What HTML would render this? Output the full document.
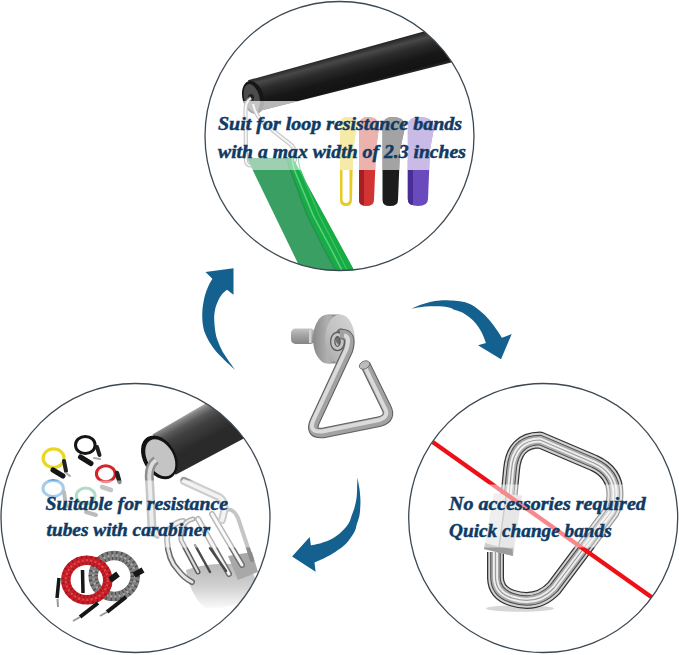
<!DOCTYPE html>
<html><head><meta charset="utf-8">
<style>
html,body{margin:0;padding:0;background:#fff;width:679px;height:655px;overflow:hidden}
svg{display:block}
.t{font-family:"Liberation Serif",serif;font-weight:bold;font-style:italic;fill:#0e3a64;font-size:18px;stroke:#0e3a64;stroke-width:0.45px}
</style></head><body>
<svg width="679" height="655" viewBox="0 0 679 655">
<defs>
  <clipPath id="cT"><circle cx="339.5" cy="136" r="134.5"/></clipPath>
  <clipPath id="cL"><circle cx="135.5" cy="518" r="134.5"/></clipPath>
  <clipPath id="cR"><circle cx="543.2" cy="518" r="134.5"/></clipPath>
  <linearGradient id="barT" gradientUnits="userSpaceOnUse" x1="370" y1="46.4" x2="379.5" y2="81.8">
    <stop offset="0" stop-color="#242424"/><stop offset="0.16" stop-color="#484848"/><stop offset="0.35" stop-color="#2c2c2c"/><stop offset="0.65" stop-color="#171717"/><stop offset="0.9" stop-color="#131313"/><stop offset="1" stop-color="#2e2e2e"/>
  </linearGradient>
  <linearGradient id="metal" x1="0" y1="0" x2="1" y2="1">
    <stop offset="0" stop-color="#e6e6e6"/><stop offset="0.5" stop-color="#a8a8a8"/><stop offset="1" stop-color="#d0d0d0"/>
  </linearGradient>
  <linearGradient id="shaft" x1="0" y1="0" x2="0" y2="1">
    <stop offset="0" stop-color="#c4c4c4"/><stop offset="0.4" stop-color="#a6a6a6"/><stop offset="1" stop-color="#858585"/>
  </linearGradient>
  <linearGradient id="wside" x1="0" y1="0" x2="1" y2="0">
    <stop offset="0" stop-color="#8a8a8a"/><stop offset="0.5" stop-color="#b0b0b0"/><stop offset="1" stop-color="#9a9a9a"/>
  </linearGradient>
  <linearGradient id="wface" x1="1" y1="0" x2="0" y2="1">
    <stop offset="0" stop-color="#d6d6d6"/><stop offset="0.6" stop-color="#c0c0c0"/><stop offset="1" stop-color="#a4a4a4"/>
  </linearGradient>
  <linearGradient id="barL" gradientUnits="userSpaceOnUse" x1="185" y1="415" x2="200" y2="443">
    <stop offset="0" stop-color="#a4a4a4"/><stop offset="0.1" stop-color="#808080"/><stop offset="0.28" stop-color="#575757"/><stop offset="0.5" stop-color="#404040"/><stop offset="0.8" stop-color="#333"/><stop offset="1" stop-color="#2a2a2a"/>
  </linearGradient>
  <clipPath id="ctopB"><rect x="300" y="100" width="200" height="70"/></clipPath>
  <clipPath id="cUnder"><rect x="230" y="101" width="100" height="20"/></clipPath>
</defs>
<rect width="679" height="655" fill="#fff"/>

<!-- ============ TOP CIRCLE ============ -->
<g clip-path="url(#cT)">
  <!-- black bar -->
  <path d="M248,80.3 L500,10.3 L500,50.2 L258,111.2 Z" fill="url(#barT)"/>
  <ellipse cx="253" cy="97.5" rx="10.5" ry="16.8" transform="rotate(-15 253 97.5)" fill="#161616"/>
  <ellipse cx="251.8" cy="97.8" rx="7.6" ry="14" transform="rotate(-15 251.8 97.8)" fill="#4c4c4c"/>
  <ellipse cx="251" cy="97.5" rx="3" ry="3.5" fill="#222"/>
  <g clip-path="url(#cUnder)">
    <path d="M252,101 L298.5,101 L258,111.2 Z" fill="#6e6e6e"/>
    <ellipse cx="253" cy="97.5" rx="10.5" ry="16.8" transform="rotate(-15 253 97.5)" fill="#5a5a5a"/>
    <ellipse cx="251.8" cy="97.8" rx="7.6" ry="14" transform="rotate(-15 251.8 97.8)" fill="#8a8a8a"/>
  </g>
  <!-- wire -->
  <path d="M251,98 C246,101 245.5,106 245.5,112 L246,161 Q246.5,165.5 251,165.5 L289,164.5 Q295,164 295,158 L294.5,151 Q294,147 290,144 L266,125 Q256,117 253,104" fill="none" stroke="#8f8f8f" stroke-width="4.2" stroke-linejoin="round"/>
  <path d="M251,98 C246,101 245.5,106 245.5,112 L246,161 Q246.5,165.5 251,165.5 L289,164.5 Q295,164 295,158 L294.5,151 Q294,147 290,144 L266,125 Q256,117 253,104" fill="none" stroke="#ececec" stroke-width="2"/>
  <!-- green band -->
  <polygon points="246.9,158 292.7,158 359.4,280 306,280" fill="#3a9f62"/>
  <path d="M287,158 L290,169 L307,215 L324.5,250 L341,280 L359.4,280 L292.7,158 Z" fill="#17ad45"/>
  <path d="M287,158 L290,169 L307,215 L324.5,250 L341,280" fill="none" stroke="#2a9152" stroke-width="1.6"/>
  <path d="M292,158 L294,169 L313,215 L331.5,250 L347,280" fill="none" stroke="#5ccf80" stroke-width="1.6"/>
  <path d="M298,158 L300,169 L319,215 L337,250 L352,280" fill="none" stroke="#3fc06a" stroke-width="1.2"/>
  <!-- small bands -->
  <path d="M340,124 Q340,117 348,117 Q357,117 357,126 L353,150 L352,200 Q352,206 346,206 Q340,206 340,200 Z" fill="#e6cb22"/>
  <path d="M342.5,170 L349.5,170 L349.5,199 Q349.5,203 346,203 Q342.5,203 342.5,199 Z" fill="#fff"/>
  <path d="M359,126 Q359,117 368,117 Q379,117 379,127 L376,150 L374,200 Q374,206 366,206 Q359,206 359,200 Z" fill="#d23434"/>
  <path d="M359,160 L364,160 L364,205 Q359,205 359,200 Z" fill="#a51e22"/>
  <path d="M382.5,126 Q382.5,117 393,117 Q405,117 405,127 L400,150 L398,200 Q398,206 390,206 Q382.5,206 382.5,200 Z" fill="#1c1c1c"/>
  <path d="M407.8,126 Q407.8,117 419,117 Q434,117 434,128 L430,150 L428,199 Q428,206 418,206 Q407.8,206 407.8,199 Z" fill="#6a4bbd"/>
  <path d="M407.8,160 L413,160 L413,205 Q407.8,205 407.8,199 Z" fill="#4a2c96"/>
  <g clip-path="url(#ctopB)">
    <path d="M340,124 Q340,117 348,117 Q357,117 357,126 L353,150 L352,200 Q352,206 346,206 Q340,206 340,200 Z" fill="#ead64e"/>
    <path d="M359,126 Q359,117 368,117 Q379,117 379,127 L376,150 L374,200 Q374,206 366,206 Q359,206 359,200 Z" fill="#d8645a"/>
    <path d="M382.5,126 Q382.5,117 393,117 Q405,117 405,127 L400,150 L398,200 Q398,206 390,206 Q382.5,206 382.5,200 Z" fill="#464646"/>
    <path d="M407.8,126 Q407.8,117 419,117 Q434,117 434,128 L430,150 L428,199 Q428,206 418,206 Q407.8,206 407.8,199 Z" fill="#9274cc"/>
  </g>
  <!-- translucent overlay -->
  <rect x="200" y="101" width="280" height="69" fill="#fff" opacity="0.5"/>
  <text class="t" x="218" y="130.3" textLength="244" lengthAdjust="spacingAndGlyphs">Suit for loop resistance bands</text>
  <text class="t" x="218" y="157.5" textLength="248" lengthAdjust="spacingAndGlyphs">with a max width of 2.3 inches</text>
</g>
<circle cx="339.5" cy="136" r="134.5" fill="none" stroke="#3c4852" stroke-width="1.3"/>

<!-- ============ ARROWS ============ -->
<g fill="#14608f">
  <path d="M235.3,370.0 C233.5,368.3 227.5,363.0 224.3,359.9 C221.1,356.8 218.5,354.5 216.1,351.6 C213.7,348.7 211.5,345.6 209.7,342.5 C207.9,339.4 206.2,336.4 205.1,333.3 C203.9,330.2 203.3,327.8 202.8,324.2 C202.3,320.6 202.1,316.3 202.3,312.0 C202.5,307.7 203.3,302.6 204.2,298.5 C205.1,294.4 206.4,290.8 207.8,287.5 C209.2,284.2 211.6,280.2 212.4,278.8 L205.5,271.9 L233.5,268.2 L233.5,294.8 L227.0,289.8 C226.1,290.6 223.1,292.9 221.6,294.8 C220.1,296.7 219.0,298.8 217.9,301.2 C216.8,303.6 215.7,306.5 215.1,309.5 C214.5,312.5 214.1,315.0 214.2,319.0 C214.3,323.0 214.9,329.4 215.6,333.3 C216.3,337.2 217.2,339.4 218.4,342.5 C219.6,345.6 220.9,348.7 222.5,351.6 C224.1,354.5 225.9,356.8 228.0,359.9 C230.1,363.0 234.1,368.3 235.3,370.0 Z"/>
  <path d="M411.6,308.6 C413.0,308.0 416.9,306.1 420.0,305.0 C423.1,303.9 426.7,302.7 430.0,301.9 C433.3,301.1 436.7,300.6 440.0,300.4 C443.3,300.1 446.7,300.2 450.0,300.4 C453.3,300.5 456.5,300.6 460.0,301.3 C463.5,302.0 466.8,302.3 471.0,304.6 C475.2,306.9 480.9,311.4 485.0,315.3 C489.1,319.2 492.8,324.4 495.6,328.2 C498.4,331.9 500.9,336.2 502.0,337.8 L511.7,334.0 L501.0,359.2 L478.0,345.3 L486.0,343.1 C485.3,341.3 483.6,336.0 481.7,332.4 C479.8,328.8 477.3,324.9 474.3,321.7 C471.3,318.5 466.8,315.1 463.6,313.2 C460.4,311.2 457.3,310.9 455.0,310.0 C452.7,309.1 452.5,308.3 450.0,307.7 C447.5,307.1 443.3,306.5 440.0,306.3 C436.7,306.1 433.3,306.2 430.0,306.3 C426.7,306.4 423.1,306.8 420.0,307.2 C416.9,307.6 413.0,308.4 411.6,308.6 Z"/>
  <path d="M357.5,477.8 C357.8,479.6 358.9,485.0 359.4,488.3 C359.9,491.6 360.1,494.4 360.3,497.5 C360.5,500.6 360.5,503.6 360.3,506.6 C360.1,509.7 360.0,512.7 359.4,515.8 C358.8,518.9 357.4,522.3 356.6,525.0 C355.8,527.7 356.2,528.7 354.5,531.8 C352.8,534.9 349.3,540.3 346.2,543.6 C343.1,546.9 339.1,549.4 335.6,551.8 C332.1,554.1 328.5,555.9 325.0,557.7 C321.5,559.5 316.2,561.6 314.5,562.4 L315.6,571.8 L292.1,556.5 L309.7,537.1 L310.9,545.3 C312.7,544.9 318.0,544.1 321.5,543.0 C325.0,541.9 328.8,540.7 332.1,538.8 C335.4,536.9 338.8,534.3 341.5,531.8 C344.2,529.2 346.9,526.2 348.6,523.5 C350.3,520.8 350.6,518.6 351.6,515.8 C352.6,513.0 354.0,509.7 354.8,506.6 C355.6,503.6 356.2,500.6 356.6,497.5 C357.0,494.4 357.0,491.6 357.1,488.3 C357.2,485.0 357.4,479.6 357.5,477.8 Z"/>
</g>

<!-- ============ CENTER HOOK ============ -->
<g>
  <rect x="291" y="328.6" width="24" height="15.3" rx="4.5" fill="url(#shaft)"/>
  <rect x="309" y="330" width="2.5" height="13" fill="#d4d4d4"/>
  <path d="M327.5,314.5 L340,314.5 L340,363.5 L327.5,363.5 Z" fill="#8f8f8f"/>
  <ellipse cx="327.5" cy="339" rx="14.5" ry="24.5" fill="url(#wside)"/>
  <ellipse cx="340" cy="339" rx="14.8" ry="24.5" fill="url(#wface)"/>
  <ellipse cx="341" cy="337" rx="6" ry="8.5" fill="#6e6e6e"/>
  <ellipse cx="337.5" cy="341.5" rx="4.8" ry="7" fill="none" stroke="#5a5a5a" stroke-width="5.5"/>
  <ellipse cx="337.5" cy="341.5" rx="4.8" ry="7" fill="none" stroke="#c4c4c4" stroke-width="3"/>
  <path d="M340,334 Q353,333 348,350 L315,421 Q309,434 323,433 L380,421.5 Q392,418 386,407 L365,364" fill="none" stroke="#5e5e5e" stroke-width="10.5" stroke-linejoin="round"/>
  <path d="M340,334 Q353,333 348,350 L315,421 Q309,434 323,433 L380,421.5 Q392,418 386,407 L365,364" fill="none" stroke="#a2a2a2" stroke-width="8.5" stroke-linejoin="round"/>
  <path d="M344,335.5 Q350.5,336 346.5,349 L313.5,420 Q308,432.5 322,431.5 L379,420 Q390,416.5 384.5,407.5 L363.8,364.5" fill="none" stroke="#dadada" stroke-width="4" stroke-linejoin="round"/>
  <ellipse cx="364.5" cy="365" rx="5.5" ry="3.8" transform="rotate(-28 364.5 365)" fill="#bcbcbc" stroke="#6a6a6a" stroke-width="0.8"/>
</g>

<!-- ============ BOTTOM LEFT CIRCLE ============ -->
<g clip-path="url(#cL)">
  <!-- colored tubes -->
  <g fill="none" stroke-linecap="round">
    <ellipse cx="53.6" cy="458.2" rx="10.5" ry="9.3" stroke="#e9d723" stroke-width="3.2"/>
    <path d="M53,470 L63,476" stroke="#151515" stroke-width="5"/>
    <path d="M64,461 L66,471" stroke="#202020" stroke-width="4"/>
    <path d="M66,473 L70,476" stroke="#aaa" stroke-width="2"/>
    <ellipse cx="85.3" cy="445" rx="9.8" ry="8.6" stroke="#151515" stroke-width="3"/>
    <path d="M80.5,457 L91,463.5" stroke="#151515" stroke-width="5"/>
    <path d="M97,447 L99.5,455" stroke="#202020" stroke-width="4"/>
    <path d="M94,458 L100,459" stroke="#aaa" stroke-width="2"/>
    <ellipse cx="105.8" cy="473.7" rx="9.4" ry="8" stroke="#d8222a" stroke-width="3"/>
    <path d="M117,473 L119.5,482" stroke="#202020" stroke-width="4.5"/>
    <path d="M102,487 L111,490" stroke="#888" stroke-width="4.5"/>
    <ellipse cx="53.2" cy="488.4" rx="10.2" ry="8" stroke="#4e98d4" stroke-width="3"/>
    <path d="M64,492 L66,506" stroke="#777" stroke-width="4"/>
    <ellipse cx="85.7" cy="496" rx="9.4" ry="8" stroke="#5cb88e" stroke-width="3"/>
    <path d="M86,512 L96,515" stroke="#777" stroke-width="4"/>
  </g>
  <!-- sleeve tubes -->
  <g fill="none">
    <ellipse cx="114.2" cy="576" rx="21" ry="20.5" stroke="#7e7e7e" stroke-width="9.5"/>
    <ellipse cx="114.2" cy="576" rx="21" ry="20.5" stroke="#4e4e4e" stroke-width="9" stroke-dasharray="1.3 3"/>
    <ellipse cx="114.2" cy="576" rx="21" ry="20.5" stroke="#a8a8a8" stroke-width="2.5" stroke-dasharray="2 2.3"/>
    <ellipse cx="86.8" cy="580" rx="21" ry="19.8" stroke="#c91f28" stroke-width="9.5"/>
    <ellipse cx="86.8" cy="580" rx="21" ry="19.8" stroke="#a3141c" stroke-width="9" stroke-dasharray="1.3 3"/>
    <ellipse cx="86.8" cy="580" rx="21" ry="19.8" stroke="#e2464c" stroke-width="2.5" stroke-dasharray="2 2.3"/>
    <path d="M59,578 L57,598" stroke="#161616" stroke-width="3.5"/>
    <path d="M57.5,599 L58,607" stroke="#999" stroke-width="2"/>
    <path d="M82.5,570 L83,593" stroke="#161616" stroke-width="3.5"/>
    <path d="M98,603 L80,617" stroke="#161616" stroke-width="4"/>
    <path d="M80,617 L73,621" stroke="#999" stroke-width="2"/>
    <path d="M126,597 L107,612" stroke="#161616" stroke-width="4"/>
    <path d="M107,612 L100,616" stroke="#999" stroke-width="2"/>
    <path d="M110,580 L118,574" stroke="#161616" stroke-width="6"/>
    <path d="M134,575 L143,570" stroke="#161616" stroke-width="6"/>
  </g>
  <!-- carabiners -->
  <defs>
    <linearGradient id="fadeB" x1="0" y1="0" x2="0" y2="1">
      <stop offset="0" stop-color="#b8b8b8"/><stop offset="0.5" stop-color="#d0d0d0"/><stop offset="1" stop-color="#fafafa"/>
    </linearGradient>
  </defs>
  <path d="M186,570 Q215,560 250,566 L258,585 Q245,610 205,608 Q190,595 186,570 Z" fill="url(#fadeB)"/>
  <path d="M228,556 L252,552 L258,572 L238,580 Z" fill="#a8a8a8"/>
  <g fill="none" stroke-linecap="round" stroke-linejoin="round">
    <path d="M183,521 Q168,524 167,540 Q168,560 178,570 Q184,578 192,582" stroke="#6a6a6a" stroke-width="6"/>
    <path d="M183,521 Q168,524 167,540 Q168,560 178,570 Q184,578 192,582" stroke="#e6e6e6" stroke-width="3"/>
    <path d="M193,519 Q180,522 181,540 L198,572" stroke="#5a5a5a" stroke-width="5"/>
    <path d="M193,519 Q180,522 181,540 L198,572" stroke="#dcdcdc" stroke-width="2.2"/>
    <path d="M198,519 L229,574" stroke="#6e6e6e" stroke-width="6"/>
    <path d="M198,519 L229,574" stroke="#f4f4f4" stroke-width="3"/>
    <path d="M195,545 L210,572" stroke="#4a4a4a" stroke-width="2.5"/>
    <path d="M212,514 L242,565" stroke="#707070" stroke-width="6"/>
    <path d="M212,514 L242,565" stroke="#f4f4f4" stroke-width="3"/>
    <path d="M210,548 L226,571" stroke="#4a4a4a" stroke-width="2.5"/>
    <path d="M222,512 Q232,505 238,518 L252,560" stroke="#8a8a8a" stroke-width="4"/>
    <path d="M184,481 L219,497 Q226,501 224,512 L222,520" stroke="#9a9a9a" stroke-width="8"/>
    <path d="M184,481 L219,497 Q226,501 224,512 L222,520" stroke="#e6e6e6" stroke-width="4"/>
  </g>
  <!-- black bar -->
  <path d="M152.7,434.2 L215,398 L260,430 L175.6,474.8 Z" fill="url(#barL)"/>
  <ellipse cx="159.3" cy="457.3" rx="16.2" ry="23.5" transform="rotate(-30 159.3 457.3)" fill="#121212"/>
  <ellipse cx="160.3" cy="457.8" rx="13" ry="20" transform="rotate(-30 160.3 457.8)" fill="#c4c4c4"/>
  <path d="M156,460 Q148,466 149.5,480 L152,527 Q153,533 160,535" fill="none" stroke="#8e8e8e" stroke-width="9"/>
  <path d="M156,460 Q148,466 149.5,480 L152,527 Q153,533 160,535" fill="none" stroke="#dcdcdc" stroke-width="4"/>
  <rect x="0" y="480.5" width="270" height="67" fill="#fff" opacity="0.5"/>
  <text class="t" x="45.6" y="510" textLength="182.4" lengthAdjust="spacingAndGlyphs">Suitable for resistance</text>
  <text class="t" x="46.5" y="536.3" textLength="163.5" lengthAdjust="spacingAndGlyphs">tubes with carabiner</text>
</g>
<circle cx="135.5" cy="518" r="134.5" fill="none" stroke="#3c4852" stroke-width="1.3"/>

<!-- ============ BOTTOM RIGHT CIRCLE ============ -->
<g clip-path="url(#cR)">
  <!-- carabiner -->
  <ellipse cx="520" cy="608.5" rx="34" ry="3.2" fill="#d6d6d6"/>
  <g fill="none" stroke-linejoin="round">
  <path d="M509,496 L511.5,470 Q514,440 540,440 L594,463 Q618,474 614.5,500 Q613.5,507 611,512 L554,588 Q537,606 512,598 Q496,593 495.5,578 L495.5,552" stroke="#333" stroke-width="17"/>
  <path d="M509,496 L511.5,470 Q514,440 540,440 L594,463 Q618,474 614.5,500 Q613.5,507 611,512 L554,588 Q537,606 512,598 Q496,593 495.5,578 L495.5,552" stroke="#d2d2d2" stroke-width="14.5"/>
  <path d="M509,496 L511.5,470 Q514,440 540,440 L594,463 Q618,474 614.5,500 Q613.5,507 611,512 L554,588 Q537,606 512,598 Q496,593 495.5,578 L495.5,552" stroke="#4a4a4a" stroke-width="10.5"/>
  <path d="M509,496 L511.5,470 Q514,440 540,440 L594,463 Q618,474 614.5,500 Q613.5,507 611,512 L554,588 Q537,606 512,598 Q496,593 495.5,578 L495.5,552" stroke="#a8a8a8" stroke-width="8.5"/>
  <path d="M509,496 L511.5,470 Q514,440 540,440 L594,463 Q618,474 614.5,500 Q613.5,507 611,512 L554,588 Q537,606 512,598 Q496,593 495.5,578 L495.5,552" stroke="#ededed" stroke-width="5"/>
  <path d="M509,496 L511.5,470 Q514,440 540,440 L594,463 Q618,474 614.5,500 Q613.5,507 611,512 L554,588 Q537,606 512,598 Q496,593 495.5,578 L495.5,552" stroke="#9a9a9a" stroke-width="1.2"/>
  </g>
  <path d="M494,493.6 L522,495.6 L513,556 L484,549 Z" fill="#cfcfcf"/>
  <path d="M494,493.6 L506,494.5 L498,552.5 L484,549 Z" fill="#dedede"/>
  <path d="M505.5,494.5 L507,494.6 L499,552.8 L497.5,552.5 Z" fill="#9a9a9a"/>
  <path d="M485,543 L498,546.5 L512.5,549 L513,556 L484,549 Z" fill="#9c9c9c"/>
  <line x1="432.7" y1="442" x2="651.7" y2="597.3" stroke="#ee1016" stroke-width="4.3"/>
  <rect x="400" y="484.5" width="290" height="63" fill="#fff" opacity="0.5"/>
  <text class="t" x="449" y="510.3" textLength="196.8" lengthAdjust="spacingAndGlyphs">No accessories required</text>
  <text class="t" x="449" y="536.8" textLength="162.7" lengthAdjust="spacingAndGlyphs">Quick change bands</text>
</g>
<circle cx="543.2" cy="518" r="134.5" fill="none" stroke="#3c4852" stroke-width="1.3"/>
</svg>
</body></html>
